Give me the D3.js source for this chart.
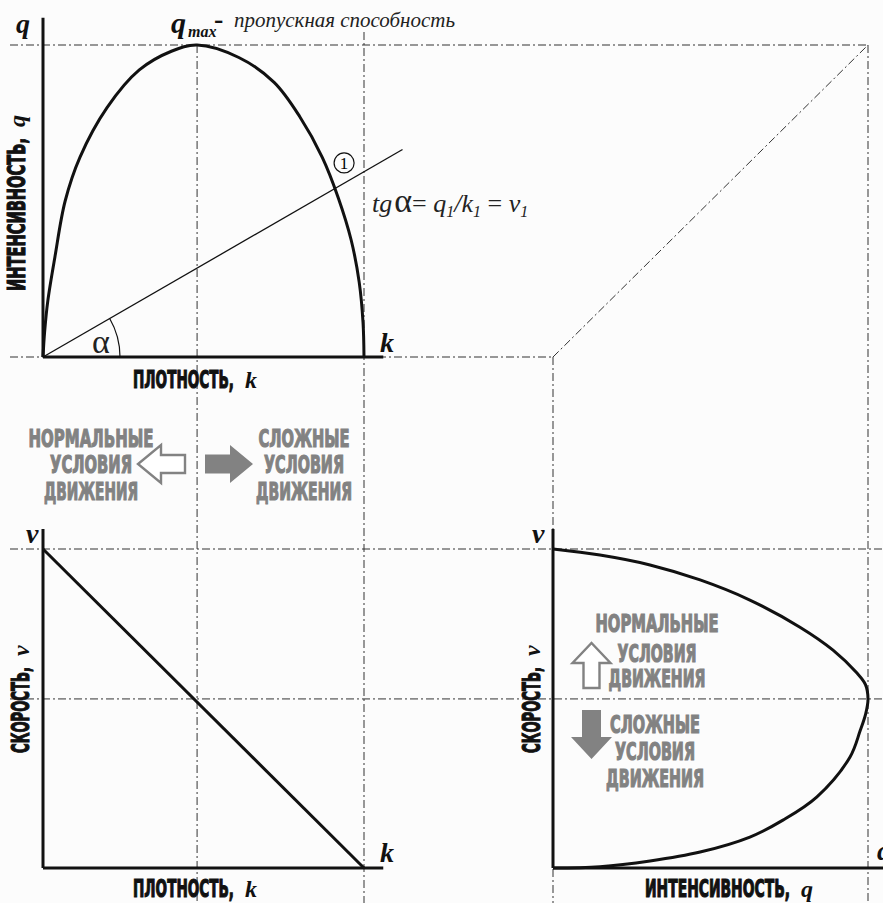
<!DOCTYPE html>
<html>
<head>
<meta charset="utf-8">
<script src="https://cdn.jsdelivr.net/npm/d3@7"></script>
<style>
  body { margin: 0; background: #fcfcfc; }
  svg { display: block; }
</style>
</head>
<body>
<script>
// ---------------------------------------------- Data ----------------------------------------------- //
// q(k): intensity vs density (k: 0..kJam, q: 0..qMax)
var flowCurve = [
  [0, 0], [0.005, 0.08], [0.015, 0.18], [0.037, 0.32], [0.069, 0.50], [0.115, 0.64],
  [0.20, 0.80], [0.30, 0.92], [0.40, 0.98], [0.48, 1.0], [0.61, 0.96], [0.72, 0.88],
  [0.80, 0.77], [0.87, 0.64], [0.92, 0.51], [0.96, 0.375], [0.985, 0.24], [0.997, 0.11], [1, 0]
];
// v(k): speed vs density
var speedLine = [[0, 1], [1, 0]];
// v(q): speed vs intensity
var speedFlowCurve = [
  [0, 1.0], [0.149, 0.981], [0.308, 0.950], [0.467, 0.903], [0.625, 0.840], [0.784, 0.755],
  [0.889, 0.683], [0.965, 0.611], [0.992, 0.575], [1.0, 0.53], [0.993, 0.485], [0.975, 0.43],
  [0.943, 0.348], [0.838, 0.223], [0.730, 0.150], [0.625, 0.097], [0.467, 0.050],
  [0.308, 0.022], [0.149, 0.004], [0, 0]
];
// tg(alpha) ray through point 1 on q(k)
var rayLine = [[0, 0], [1.12, 0.665]];
var point1 = [0.938, 0.622];

// guide values
var kCrit = 0.48, kJam = 1, qMax = 1, vFree = 1, vCrit = 0.53;

// texts
var normalLines = ["НОРМАЛЬНЫЕ", "УСЛОВИЯ", "ДВИЖЕНИЯ"];
var hardLines = ["СЛОЖНЫЕ", "УСЛОВИЯ", "ДВИЖЕНИЯ"];

// --------------------------------------------- Init SVG ---------------------------------------------- //
var width = 883, height = 903;
var svg = d3.select("body").append("svg")
    .attr("width", width)
    .attr("height", height);

var serif = "'Liberation Serif', 'DejaVu Serif', serif";
var cond = "'Liberation Sans Narrow', 'DejaVu Sans Condensed', 'Roboto', sans-serif";
var grey = "#828282";

// scales
var xK = d3.scaleLinear().domain([0, 1]).range([43, 364]);
var yQ = d3.scaleLinear().domain([0, 1]).range([357, 45]);
var yV = d3.scaleLinear().domain([0, 1]).range([868, 549]);
var xQ = d3.scaleLinear().domain([0, 1]).range([553, 868]);

// ------------------------------------------- Guide lines --------------------------------------------- //
var guides = svg.append("g")
    .attr("stroke", "#333")
    .attr("stroke-width", 1)
    .attr("stroke-dasharray", "8,3,2,3")
    .attr("fill", "none");

function guide(x1, y1, x2, y2) {
  guides.append("line").attr("x1", x1).attr("y1", y1).attr("x2", x2).attr("y2", y2);
}
var leftEdge = 10;
guide(leftEdge, yQ(qMax), xQ(qMax), yQ(qMax));          // q max
guide(leftEdge, yQ(0), xQ(0), yQ(0));                   // k axis level
guide(xQ(0), yQ(0), xQ(qMax), yQ(qMax));                // transfer diagonal
guide(xQ(qMax), yQ(qMax), xQ(qMax), height);            // q max down
guide(xQ(0), yQ(0), xQ(0), height);                     // q axis origin down
guide(xK(kCrit), yQ(qMax), xK(kCrit), height);          // k crit
guide(xK(kJam), 32, xK(kJam), height);                  // k jam
guide(leftEdge, yV(vFree), width, yV(vFree));           // v free
guide(leftEdge, yV(vCrit), width, yV(vCrit));           // v crit

// ----------------------------------------------- Axes ------------------------------------------------ //
var axes = svg.append("g").attr("stroke", "#111").attr("stroke-width", 3).attr("fill", "none");
function axisL(x1, y1, x2, y2) {
  axes.append("line").attr("x1", x1).attr("y1", y1).attr("x2", x2).attr("y2", y2);
}
axisL(xK(0), yQ(1.087), xK(0), yQ(0));
axisL(xK(0), yQ(0), xK(1.06), yQ(0));
axisL(xK(0), yV(1.063), xK(0), yV(0));
axisL(xK(0), yV(0), xK(1.06), yV(0));
axisL(xQ(0), yV(1.063), xQ(0), yV(0));
axisL(xQ(0), yV(0), width + 5, yV(0));

// ---------------------------------------------- Curves ----------------------------------------------- //
var curves = svg.append("g").attr("stroke", "#111").attr("stroke-width", 3).attr("fill", "none");
curves.append("path")
    .attr("d", d3.line().x(d => xK(d[0])).y(d => yQ(d[1])).curve(d3.curveCatmullRom.alpha(0.5))(flowCurve));
curves.append("path")
    .attr("d", d3.line().x(d => xK(d[0])).y(d => yV(d[1]))(speedLine));
curves.append("path")
    .attr("d", d3.line().x(d => xQ(d[0])).y(d => yV(d[1])).curve(d3.curveCatmullRom.alpha(0.5))(speedFlowCurve));

// ray and angle
svg.append("path")
    .attr("d", d3.line().x(d => xK(d[0])).y(d => yQ(d[1]))(rayLine))
    .attr("stroke", "#111").attr("stroke-width", 1.3).attr("fill", "none");
var ang = Math.atan2(yQ(0) - yQ(rayLine[1][1]), xK(rayLine[1][0]) - xK(0));
var arcP = d3.path();
arcP.moveTo(xK(0) + 77, yQ(0));
arcP.arc(xK(0), yQ(0), 77, 0, -ang, true);
svg.append("path").attr("d", arcP.toString())
    .attr("stroke", "#111").attr("stroke-width", 1.2).attr("fill", "none");
svg.append("text").attr("x", 101).attr("y", 353)
    .attr("text-anchor", "middle").attr("font-family", serif).attr("font-size", 34)
    .attr("fill", "#222").text("α");

// point 1
svg.append("circle").attr("cx", xK(point1[0])).attr("cy", yQ(point1[1])).attr("r", 10)
    .attr("stroke", "#111").attr("stroke-width", 1.2).attr("fill", "none");
svg.append("text").attr("x", xK(point1[0])).attr("y", yQ(point1[1]) + 6)
    .attr("text-anchor", "middle").attr("font-family", serif).attr("font-size", 17)
    .text("1");

// ------------------------------------------- Axis letters -------------------------------------------- //
function letter(x, y, t, size) {
  svg.append("text").attr("x", x).attr("y", y)
      .attr("font-family", serif).attr("font-style", "italic").attr("font-weight", "bold")
      .attr("font-size", size || 28).attr("fill", "#111").text(t);
}
letter(16, 33, "q");
letter(380, 352, "k");
letter(26, 543, "v");
letter(380, 862, "k");
letter(532, 543, "v");
letter(877, 860, "q");

// q max caption
letter(171, 33, "q", 30);
svg.append("text").attr("x", 188).attr("y", 37)
    .attr("font-family", serif).attr("font-style", "italic").attr("font-weight", "bold")
    .attr("font-size", 16).attr("fill", "#111").text("max");
svg.append("text").attr("x", 214).attr("y", 28)
    .attr("font-family", serif).attr("font-weight", "bold")
    .attr("font-size", 28).attr("fill", "#111").text("-");
svg.append("text").attr("x", 234).attr("y", 27)
    .attr("font-family", serif).attr("font-style", "italic")
    .attr("font-size", 21).attr("fill", "#222")
    .attr("textLength", 221).attr("lengthAdjust", "spacingAndGlyphs")
    .text("пропускная способность");

// tg alpha formula
var f = svg.append("text").attr("x", 372).attr("y", 212)
    .attr("font-family", serif).attr("font-style", "italic").attr("font-size", 26).attr("fill", "#222");
f.append("tspan").text("tg");
f.append("tspan").attr("font-style", "normal").attr("font-size", 34).attr("dx", 2).text("α");
f.append("tspan").attr("font-style", "normal").text("= ");
f.append("tspan").text("q");
f.append("tspan").attr("font-size", 16).attr("dy", 5).text("1");
f.append("tspan").attr("dy", -5).text("/k");
f.append("tspan").attr("font-size", 16).attr("dy", 5).text("1");
f.append("tspan").attr("font-style", "normal").attr("dy", -5).text(" = ");
f.append("tspan").text("v");
f.append("tspan").attr("font-size", 16).attr("dy", 5).text("1");

// ------------------------------------------- Axis titles --------------------------------------------- //
function title(x, y, rot, label, len, sym) {
  var g = svg.append("g").attr("transform", "translate(" + x + "," + y + ") rotate(" + rot + ")");
  g.append("text").attr("x", 0).attr("y", 0)
      .attr("font-family", cond).attr("font-weight", "bold").attr("font-size", 24)
      .attr("fill", "#111").attr("stroke", "#111").attr("stroke-width", 1.1)
      .attr("textLength", len).attr("lengthAdjust", "spacingAndGlyphs")
      .text(label);
  g.append("text").attr("x", len + 11).attr("y", 0)
      .attr("font-family", serif).attr("font-style", "italic").attr("font-weight", "bold")
      .attr("font-size", 24).attr("fill", "#111").text(sym);
}
title(133, 388, 0, "ПЛОТНОСТЬ,", 101, "k");
title(133, 897, 0, "ПЛОТНОСТЬ,", 101, "k");
title(645, 897, 0, "ИНТЕНСИВНОСТЬ,", 145, "q");
title(25, 291, -90, "ИНТЕНСИВНОСТЬ,", 153, "q");
title(29, 753, -90, "СКОРОСТЬ,", 86, "v");
title(540, 753, -90, "СКОРОСТЬ,", 86, "v");

// --------------------------------------- Regime annotations ------------------------------------------ //
function block(cx, baselines, lines, widths) {
  lines.forEach(function(t, i) {
    svg.append("text").attr("x", cx - widths[i] / 2).attr("y", baselines[i])
        .attr("font-family", cond).attr("font-weight", "bold").attr("font-size", 24)
        .attr("fill", grey).attr("stroke", grey).attr("stroke-width", 1.1)
        .attr("textLength", widths[i]).attr("lengthAdjust", "spacingAndGlyphs")
        .text(t);
  });
}
block(91, [447, 473, 500], normalLines, [125, 82, 94]);
block(304, [447, 473, 500], hardLines, [91, 80, 96]);
block(657, [632, 662, 687], normalLines, [123, 79, 97]);
block(655, [733, 760, 787], hardLines, [90, 80, 98]);

// arrow polygon from tail centre to tip
function arrow(x0, y0, x1, y1, sh, hh, hl) {
  var dx = x1 - x0, dy = y1 - y0, L = Math.hypot(dx, dy);
  var ux = dx / L, uy = dy / L, nx = -uy, ny = ux;
  var bx = x1 - ux * hl, by = y1 - uy * hl;
  var p = [
    [x0 + nx * sh, y0 + ny * sh], [bx + nx * sh, by + ny * sh], [bx + nx * hh, by + ny * hh],
    [x1, y1],
    [bx - nx * hh, by - ny * hh], [bx - nx * sh, by - ny * sh], [x0 - nx * sh, y0 - ny * sh]
  ];
  return d3.line()(p) + "Z";
}
svg.append("path").attr("d", arrow(185, 464, 138, 464, 9, 19, 23))
    .attr("fill", "#fff").attr("stroke", grey).attr("stroke-width", 2.4);
svg.append("path").attr("d", arrow(205, 464, 253, 464, 9.5, 19, 23))
    .attr("fill", grey);
svg.append("path").attr("d", arrow(591.5, 688, 591.5, 643, 8, 19, 20))
    .attr("fill", "#fff").attr("stroke", grey).attr("stroke-width", 2.4);
svg.append("path").attr("d", arrow(591.5, 710, 591.5, 759, 9.5, 20.5, 22))
    .attr("fill", grey);
</script>
</body>
</html>
